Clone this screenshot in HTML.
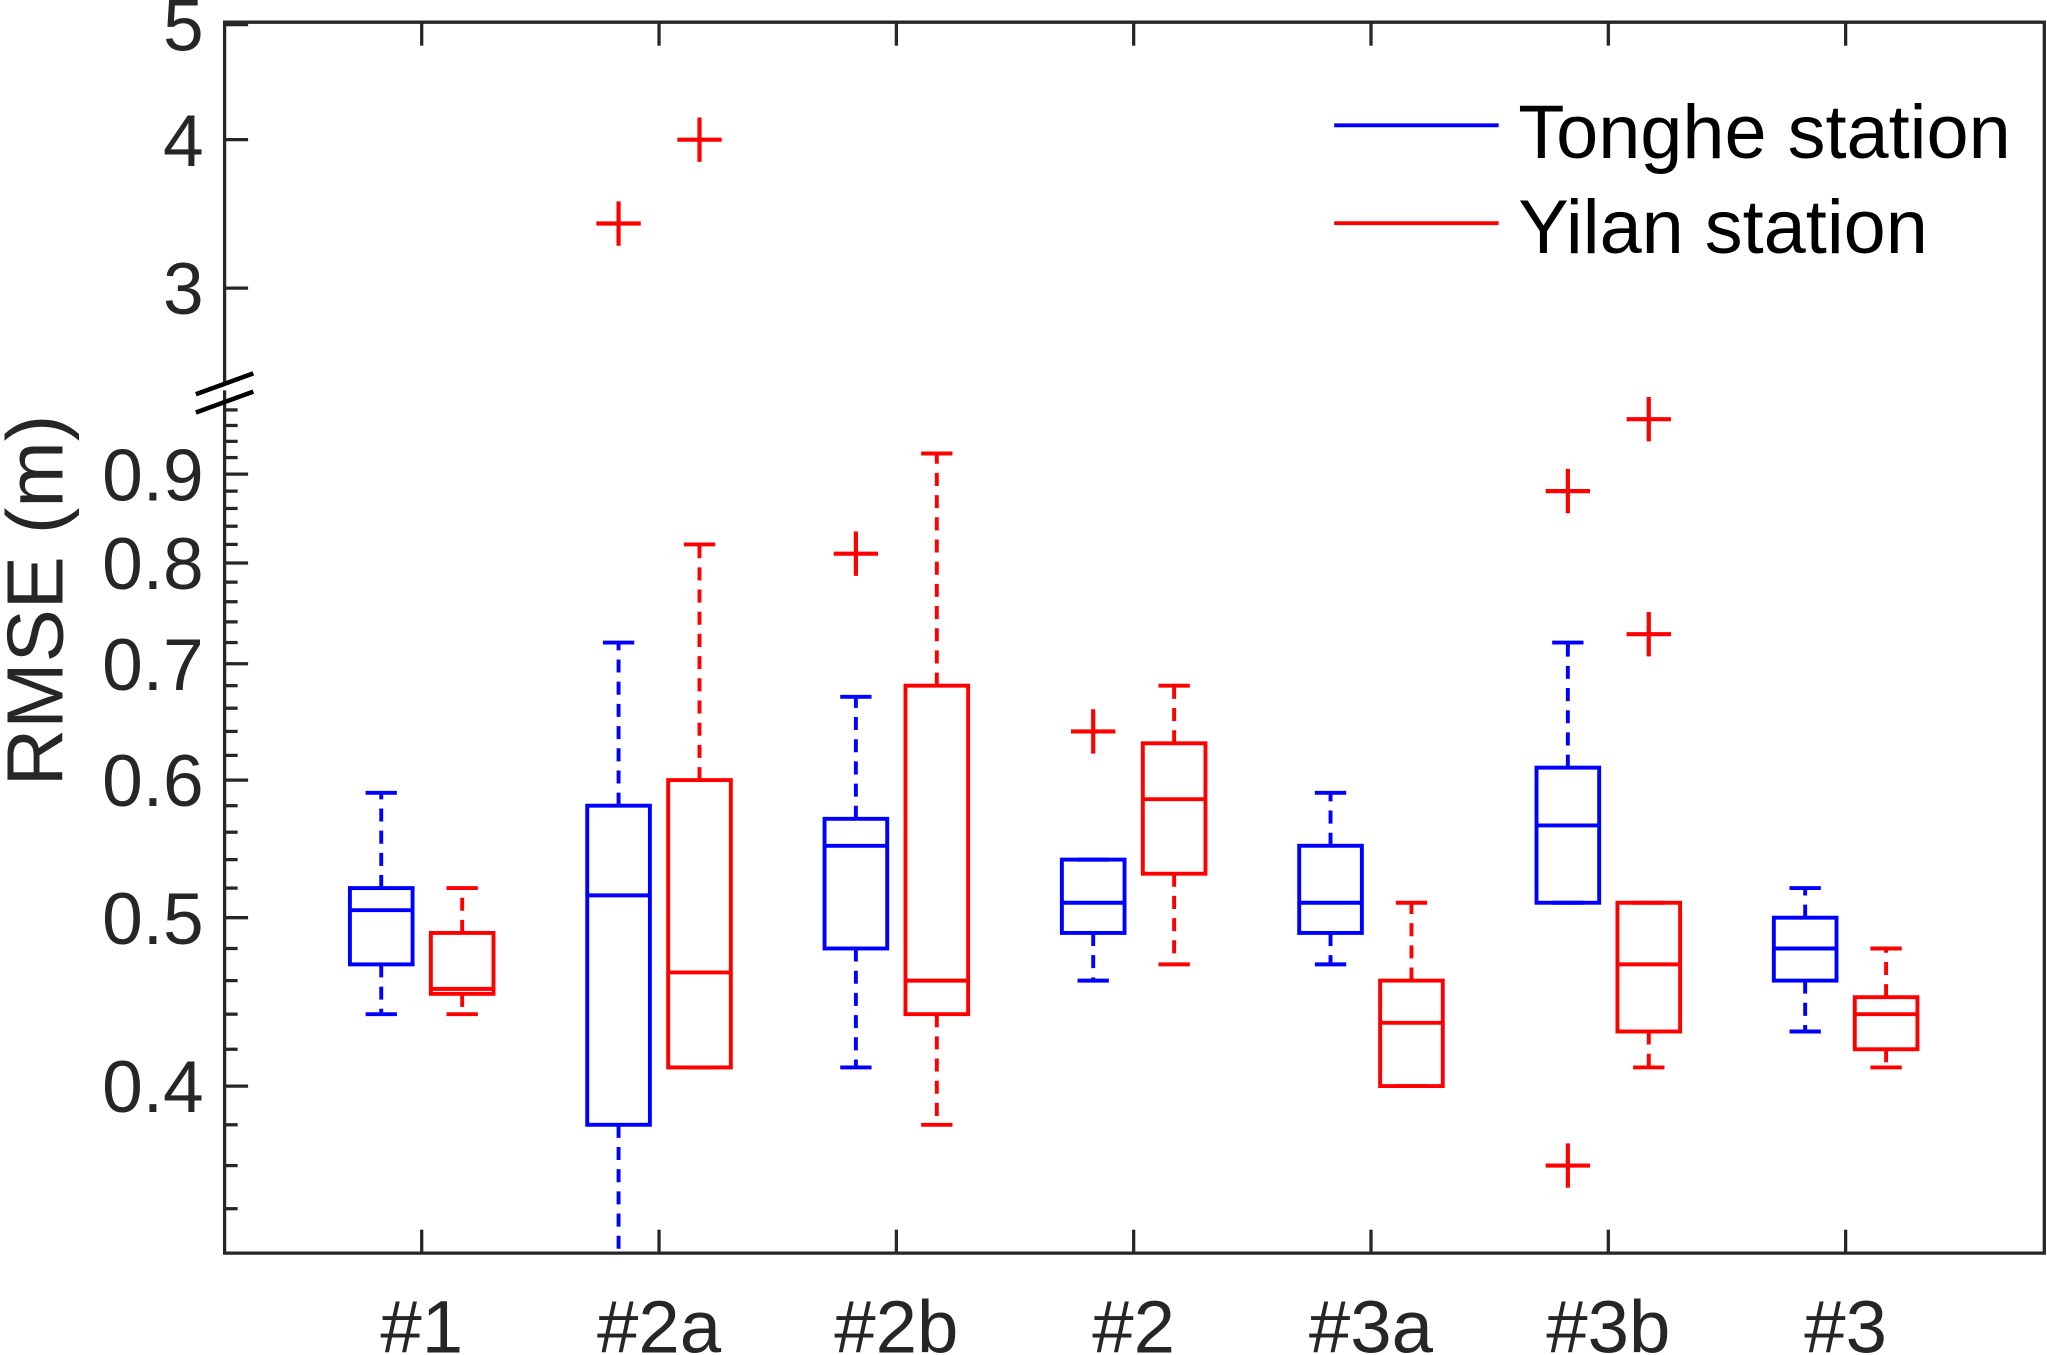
<!DOCTYPE html>
<html><head><meta charset="utf-8"><style>
html,body{margin:0;padding:0;background:#fff}
svg{display:block}
text{font-family:"Liberation Sans",Arial,sans-serif}
</style></head><body>
<svg id="chart" width="2047" height="1355" viewBox="0 0 1568 1038" xmlns="http://www.w3.org/2000/svg">
<g id="axes"></g>
<g id="marks"></g>
<g id="legend">
 <line x1="1022" y1="96" x2="1148" y2="96" stroke="#0000ff" stroke-width="3"/>
 <text x="1163" y="121" font-size="58" fill="#000">Tonghe station</text>
 <line x1="1022" y1="171" x2="1148" y2="171" stroke="#ff0000" stroke-width="3"/>
 <text x="1163" y="194" font-size="58" fill="#000">Yilan station</text>
</g>
<text transform="translate(48,460) rotate(-90)" text-anchor="middle" font-size="61" fill="#262626">RMSE (m)</text>
</svg>
<script>
const categories = ["#1","#2a","#2b","#2","#3a","#3b","#3"];
// [lowerWhisker, q1, median, q3, upperWhisker]
const tongheStats = [
  [0.44,0.47,0.505,0.52,0.59],
  [0.32,0.38,0.515,0.58,0.72],
  [0.41,0.48,0.55,0.57,0.67],
  [0.46,0.49,0.51,0.54,0.54],
  [0.47,0.49,0.51,0.55,0.59],
  [0.51,0.51,0.565,0.61,0.72],
  [0.43,0.46,0.48,0.50,0.52]
];
const yilanStats = [
  [0.44,0.452,0.455,0.49,0.52],
  [0.41,0.41,0.465,0.60,0.82],
  [0.38,0.44,0.46,0.68,0.925],
  [0.47,0.53,0.585,0.63,0.68],
  [0.40,0.40,0.435,0.46,0.51],
  [0.41,0.43,0.47,0.51,0.51],
  [0.41,0.42,0.44,0.45,0.48]
];
const tongheOutliers = [[],[3.4],[0.81],[0.64],[],[0.88,0.36],[]];
const yilanOutliers = [[],[4.0],[],[],[],[0.968,0.728],[]];
const lowerTicks = [0.4,0.5,0.6,0.7,0.8,0.9];
const lowerTickLabels = ["0.4","0.5","0.6","0.7","0.8","0.9"];
const upperTicks = [3,4,5];
const upperTickLabels = ["3","4","5"];

const NS="http://www.w3.org/2000/svg";
const L=172,R=1566,T=17,B=960;
function yScale(v){
  if(v<=1.2) return 703-1331*Math.log10(v/0.5);
  return 107-910*Math.log10(v/4);
}
function xScale(i){return 323+i*181.8;}
function mk(tag,attrs,parent){const e=document.createElementNS(NS,tag);for(const k in attrs)e.setAttribute(k,attrs[k]);parent.appendChild(e);return e;}
const axes=document.getElementById('axes'), marks=document.getElementById('marks');
const AX="#262626";
let f=mk('path',{d:`M${L},${B} L${R},${B} L${R},${T} L${L},${T} Z`,fill:'none',stroke:AX,'stroke-width':2.5},axes);


mk('rect',{x:168,y:294,width:8,height:5,fill:'#fff'},axes);
let bk=mk('path',{d:`M150,302 L194,286 M150,316 L194,300`,stroke:'#000','stroke-width':3.5,fill:'none'},axes);


function yTick(v,label,major){
  const y=yScale(v);
  const t=mk('line',{x1:L,y1:y,x2:L+(major?18:10),y2:y,stroke:AX,'stroke-width':2.5},axes);
  
  
  if(label!==null){
    const tx=mk('text',{x:L-16,y:y+20,'text-anchor':'end','font-size':56,fill:AX},axes);
    tx.textContent=label;
    
    
  }
}
lowerTicks.forEach((v,i)=>yTick(v,lowerTickLabels[i],true));
upperTicks.forEach((v,i)=>yTick(v,upperTickLabels[i],true));
for(let k=34;k<=98;k+=2){ if(k%10===0) continue; yTick(k/100,null,false); }
categories.forEach((c,i)=>{
  const x=xScale(i);
  const t1=mk('line',{x1:x,y1:B,x2:x,y2:B-18,stroke:AX,'stroke-width':2.5},axes);
  
  
  const t2=mk('line',{x1:x,y1:T,x2:x,y2:T+18,stroke:AX,'stroke-width':2.5},axes);
  
  
  const tx=mk('text',{x:x,y:1036,'text-anchor':'middle','font-size':57,fill:AX},axes);
  tx.textContent=c;
  
  
});
function drawBox(s,cx,color,name){
  const g=mk('g',{},marks);
  
  
  const w=24,cap=12;
  const [lw,q1,md,q3,uw]=s.map(yScale);
  const bot=Math.min(lw,B);
  mk('line',{x1:cx,y1:q1,x2:cx,y2:bot,stroke:color,'stroke-width':3,'stroke-dasharray':'10,7'},g);
  mk('line',{x1:cx,y1:q3,x2:cx,y2:uw,stroke:color,'stroke-width':3,'stroke-dasharray':'10,7'},g);
  if(lw<=B) mk('line',{x1:cx-cap,y1:lw,x2:cx+cap,y2:lw,stroke:color,'stroke-width':3},g);
  mk('line',{x1:cx-cap,y1:uw,x2:cx+cap,y2:uw,stroke:color,'stroke-width':3},g);
  mk('rect',{x:cx-w,y:q3,width:2*w,height:q1-q3,fill:'none',stroke:color,'stroke-width':3},g);
  mk('line',{x1:cx-w,y1:md,x2:cx+w,y2:md,stroke:color,'stroke-width':3},g);
}
function drawOutlier(v,cx,name){
  const y=yScale(v);
  const p=mk('path',{d:`M${cx-17},${y} L${cx+17},${y} M${cx},${y-17} L${cx},${y+17}`,stroke:'#ff0000','stroke-width':3.2,fill:'none'},marks);
  
  
}
categories.forEach((c,i)=>{
  const x=xScale(i);
  drawBox(tongheStats[i],x-31,'#0000ff','box-tonghe');
  drawBox(yilanStats[i],x+31,'#ff0000','box-yilan');
  tongheOutliers[i].forEach(v=>drawOutlier(v,x-31,'outlier-tonghe'));
  yilanOutliers[i].forEach(v=>drawOutlier(v,x+31,'outlier-yilan'));
});
</script>
</body></html>
